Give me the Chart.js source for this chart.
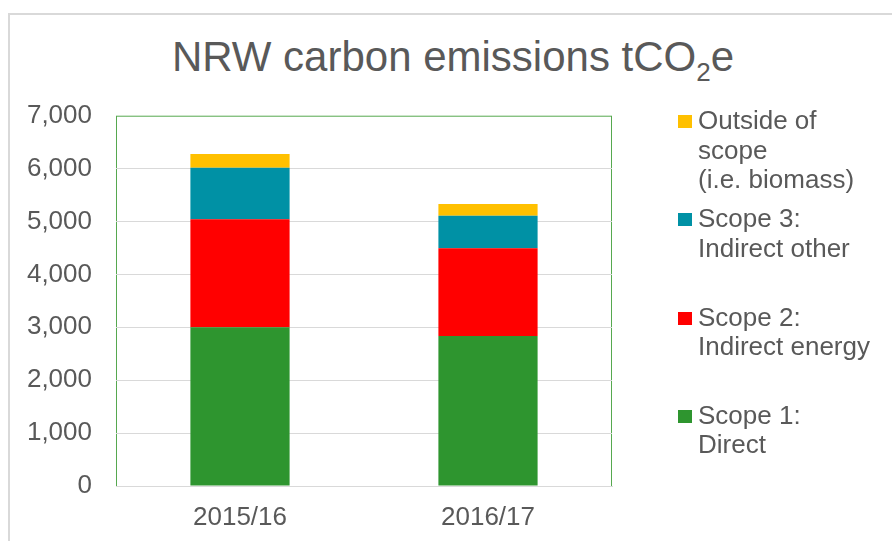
<!DOCTYPE html>
<html>
<head>
<meta charset="utf-8">
<script src="https://cdn.jsdelivr.net/npm/chart.js@4"></script>
<style>
  html, body { margin: 0; padding: 0; background: #fff; overflow: hidden; }
  body { width: 892px; height: 541px; position: relative; font-family: "Liberation Sans", Arial, sans-serif; }
  #frame { position: absolute; left: 8px; top: 13px; width: 2000px; height: 2000px; border: 2px solid #d9d9d9; }
  #title { position: absolute; left: 0; top: 32px; width: 906px; text-align: center; font-size: 42px; line-height: 50px; color: #595959; white-space: nowrap; }
  #title span { font-size: 26px; position: relative; top: 10px; line-height: 1; }
  #chart { position: absolute; left: 0; top: 0; }
  #legend { position: absolute; left: 678px; top: 106px; color: #595959; font-size: 26px; line-height: 29.5px; }
  .item { position: relative; height: 98.3px; padding-left: 20px; white-space: pre-line; }
  .box { position: absolute; left: 0; top: 9px; width: 14px; height: 13px; }
</style>
</head>
<body>
<div id="frame"></div>
<div id="title">NRW carbon emissions tCO<span>2</span>e</div>
<canvas id="chart" width="892" height="541"></canvas>
<div id="legend"></div>
<script>
// Carbon emissions data (tCO2e)
const years = ['2015/16', '2016/17'];
const scope1 = [3000, 2836];
const scope2 = [2042, 1657];
const scope3 = [975, 617];
const outsideScope = [259, 221];

const seriesLabels = ['Scope 1:\nDirect', 'Scope 2:\nIndirect energy', 'Scope 3:\nIndirect other', 'Outside of\nscope\n(i.e. biomass)'];
const seriesColors = ['#2e952f', '#ff0000', '#0091a5', '#ffc000'];

const yMin = 0;
const yMax = 7000;
const yStep = 1000;

// green plot area frame, drawn under the grid
const plotFrame = {
    id: 'plotFrame',
    beforeDraw(chart) {
        const a = chart.chartArea;
        const c = chart.ctx;
        c.save();
        c.strokeStyle = '#56a84f';
        c.lineWidth = 1;
        c.strokeRect(a.left + 0.5, a.top + 0.5, a.right - a.left - 1, a.bottom - a.top);
        c.restore();
    }
};

const ctx = document.getElementById('chart').getContext('2d');
const chart = new Chart(ctx, {
    type: 'bar',
    data: {
        labels: years,
        datasets: [scope1, scope2, scope3, outsideScope].map(function (vals, i) {
            return {
                label: seriesLabels[i],
                data: vals,
                backgroundColor: seriesColors[i],
                borderWidth: 0,
                barPercentage: 0.5,
                categoryPercentage: 0.8
            };
        })
    },
    options: {
        responsive: false,
        animation: false,
        layout: { padding: { top: 115.7, right: 280, bottom: 0, left: 0 } },
        plugins: {
            legend: { display: false },
            title: { display: false },
            tooltip: { enabled: false }
        },
        scales: {
            x: {
                stacked: true,
                grid: { display: false, drawTicks: false },
                border: { color: '#d9d9d9', width: 1 },
                ticks: { color: '#595959', font: { family: 'Liberation Sans', size: 26 }, padding: 16 },
                afterFit: function (s) { s.height = 55; }
            },
            y: {
                stacked: true,
                min: yMin,
                max: yMax,
                border: { display: false },
                grid: {
                    drawTicks: false,
                    color: function (c) { return c.tick && c.tick.value === yMax ? 'rgba(0,0,0,0)' : '#d9d9d9'; }
                },
                ticks: { stepSize: yStep, color: '#595959', font: { family: 'Liberation Sans', size: 26 }, padding: 24 },
                afterFit: function (s) { s.width = 116; }
            }
        }
    },
    plugins: [plotFrame]
});

// legend: top to bottom in reverse stacking order
const legend = document.getElementById('legend');
chart.data.datasets.slice().reverse().forEach(function (ds) {
    const item = document.createElement('div');
    item.className = 'item';
    const box = document.createElement('div');
    box.className = 'box';
    box.style.background = ds.backgroundColor;
    item.appendChild(box);
    item.appendChild(document.createTextNode(ds.label));
    legend.appendChild(item);
});
</script>
</body>
</html>
